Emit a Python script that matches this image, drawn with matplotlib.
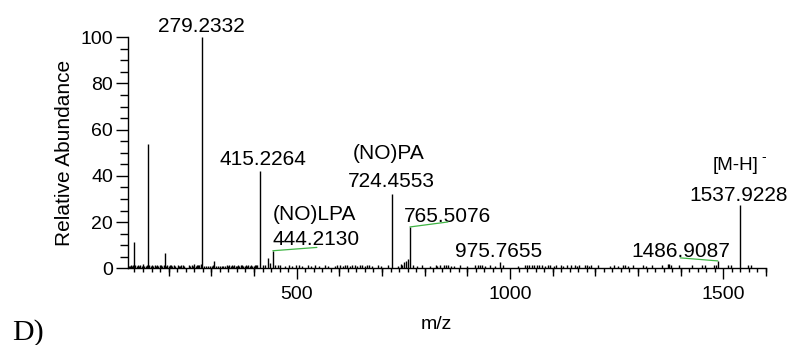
import matplotlib
matplotlib.use("Agg")
import matplotlib.pyplot as plt
from matplotlib.ticker import MultipleLocator, FixedLocator

plt.rcParams['font.family'] = ['Liberation Sans', 'DejaVu Sans']

# Prominent ions: m/z and relative abundance (%)
peak_mz = [118.8, 152.3, 190.5, 279.2332, 307.0, 415.2264, 432.0, 444.2130,
           724.4553, 765.5076, 975.7655, 1486.9087, 1537.9228]
peak_int = [11.2, 53.8, 6.5, 100.0, 3.3, 42.3, 4.6, 7.6,
            32.0, 17.9, 2.8, 3.2, 27.4]

# Low-level signals along the baseline
noise_mz = [106, 109, 112, 115, 117, 122, 125, 128, 131, 134,
            137, 140, 143, 146, 149, 155, 158, 161, 164, 167,
            170, 173, 176, 179, 182, 185, 188, 194, 197, 200,
            203, 206, 209, 212, 215, 221, 224, 227, 230, 233,
            236, 248, 251, 254, 257, 260, 263, 266, 269, 272,
            275, 284, 288, 292, 297, 301, 304, 312, 316, 320,
            324, 328, 332, 336, 339, 342, 345, 348, 351, 354,
            357, 360, 363, 366, 369, 372, 375, 378, 381, 384,
            387, 390, 393, 396, 399, 402, 405, 408, 420, 426,
            437, 449, 456, 461, 473, 481, 488, 498, 506, 513,
            526, 534, 543, 552, 567, 574, 590, 595, 602, 608,
            613, 619, 625, 630, 637, 642, 649, 654, 660, 666,
            670, 676, 691, 697, 715, 738, 744, 748, 752, 756,
            760, 773, 783, 793, 813, 826, 828, 836, 846, 849,
            854, 862, 869, 883, 899, 918, 924, 930, 935, 941,
            953, 965, 984, 1019, 1034, 1039, 1045, 1051, 1057, 1063,
            1068, 1074, 1082, 1088, 1094, 1102, 1108, 1119, 1125, 1133,
            1142, 1152, 1158, 1162, 1176, 1180, 1186, 1191, 1207, 1234,
            1244, 1254, 1264, 1270, 1277, 1289, 1311, 1319, 1332, 1356,
            1370, 1373, 1377, 1395, 1426, 1449, 1456, 1477, 1482, 1510,
            1518, 1557, 1565]
noise_int = [1.2, 0.9, 1.4, 1.0, 1.6, 1.3, 0.8, 1.5, 1.1, 1.4,
             1.0, 1.7, 1.2, 0.9, 1.5, 1.3, 1.1, 1.6, 1.0, 1.4,
             1.2, 1.5, 0.9, 1.3, 1.6, 1.1, 1.4, 1.2, 1.5, 1.0,
             1.3, 1.6, 1.1, 1.4, 0.9, 1.5, 1.2, 1.0, 1.6, 1.3,
             1.1, 1.4, 1.0, 1.5, 1.2, 1.7, 1.1, 1.3, 1.6, 1.4,
             1.8, 1.0, 0.8, 1.2, 0.9, 1.1, 1.3, 1.0, 1.2, 0.9,
             1.1, 0.8, 1.2, 1.3, 1.0, 1.4, 1.1, 1.3, 0.9, 1.5,
             1.2, 1.0, 1.4, 1.1, 1.3, 1.5, 1.0, 1.2, 1.4, 1.1,
             1.3, 1.0, 1.5, 1.2, 1.1, 1.4, 1.3, 1.6, 1.4, 1.5,
             2.2, 1.5, 1.3, 1.4, 1.2, 1.4, 1.1, 1.3, 1.4, 1.2,
             1.3, 1.2, 1.4, 1.1, 1.3, 1.2, 1.1, 1.3, 1.4, 1.2,
             1.3, 1.4, 1.2, 1.3, 1.4, 1.2, 1.3, 1.4, 1.2, 1.3,
             1.4, 1.2, 1.3, 1.1, 1.3, 1.2, 1.8, 1.5, 2.6, 3.2,
             4.0, 1.3, 1.2, 1.3, 1.2, 1.3, 1.1, 1.4, 1.5, 1.3,
             1.4, 1.1, 1.2, 1.3, 1.2, 1.3, 1.4, 1.5, 1.3, 1.2,
             1.3, 1.2, 1.4, 1.2, 1.3, 1.4, 1.5, 1.3, 1.4, 1.3,
             1.4, 1.3, 1.2, 1.3, 1.4, 1.2, 1.3, 1.4, 1.2, 1.3,
             1.4, 1.3, 1.2, 1.4, 1.3, 1.5, 1.2, 1.3, 1.4, 1.2,
             1.3, 1.2, 1.4, 1.3, 1.2, 1.3, 1.4, 1.2, 1.3, 1.4,
             1.8, 2.0, 1.6, 1.3, 1.4, 1.3, 1.5, 1.4, 1.6, 1.3,
             1.4, 1.3, 1.4]

# Annotated ions: (m/z, abundance, label, ha, dx_pt, dy_pt)
mz_labels = [
    (279.2332, 100.0, "279.2332", "center", -0.7, 3.6),
    (415.2264, 42.3, "415.2264", "center", 1.5, 4.1),
    (444.2130, 7.6, "444.2130", "left", -0.4, 4.1),
    (724.4553, 32.0, "724.4553", "center", -0.7, 5.0),
    (765.5076, 17.9, "765.5076", "left", -4.3, 3.8),
    (975.7655, 2.8, "975.7655", "center", -0.7, 3.8),
    (1486.9087, 3.2, "1486.9087", "right", 8.9, 2.9),
    (1537.9228, 27.4, "1537.9228", "center", -0.7, 3.1),
]
# Species names placed above their ions
species_labels = [
    (444.2130, 7.6, "(NO)LPA", "left", -0.4, 22.1),
    (724.4553, 32.0, "(NO)PA", "center", -2.6, 25.8),
]
# Leader lines from ion to label (dx_pt, dy_pt)
leaders = [
    (444.2130, 7.6, 31.7, 2.4),
    (765.5076, 17.9, 27.4, 3.6),
    (1486.9087, 3.2, -27.0, 2.2),
]

FS = 14

fig = plt.figure(figsize=(7.92, 3.45), dpi=100)
ax = fig.add_axes([0.1612, 0.2223, 0.806, 0.6696])

ax.vlines(noise_mz, 0, noise_int, color='black', lw=1.0)
ax.vlines(peak_mz, 0, peak_int, color='black', lw=1.0)

ax.set_xlim(104, 1600)
ax.set_ylim(0, 100)

for s in ('top', 'right'):
    ax.spines[s].set_visible(False)
for s in ('left', 'bottom'):
    ax.spines[s].set_linewidth(1.0)

ax.xaxis.set_major_locator(FixedLocator([500, 1000, 1500]))
ax.xaxis.set_minor_locator(MultipleLocator(20))
ax.yaxis.set_major_locator(MultipleLocator(20))
ax.yaxis.set_minor_locator(MultipleLocator(5))
ax.tick_params(axis='x', which='major', direction='out', length=8, width=1.0,
               labelsize=FS, pad=5)
ax.tick_params(axis='x', which='minor', direction='out', length=3.1, width=1.0)
ax.tick_params(axis='y', which='major', direction='out', length=9, width=1.0,
               labelsize=FS, pad=1.5)
ax.tick_params(axis='y', which='minor', direction='out', length=6, width=1.0)

# intermediate ticks every 100 m/z
sec = ax.secondary_xaxis('bottom')
sec.set_xticks([m for m in range(200, 1700, 100) if m % 500])
sec.tick_params(axis='x', which='major', length=5.8, width=1.0,
                labelbottom=False)
sec.spines['bottom'].set_visible(False)

ax.set_ylabel("Relative Abundance", fontsize=FS + 1, labelpad=4.5)
ax.set_xlabel("m/z", fontsize=FS)
ax.xaxis.set_label_coords(0.483, -0.205)

for mz, h, txt, ha, dx, dy in mz_labels + species_labels:
    ax.annotate(txt, xy=(mz, h), xytext=(dx, dy), textcoords='offset points',
                ha=ha, va='baseline', fontsize=FS + 1, annotation_clip=False)

ax.annotate("[M-H]", xy=(1537.9228, 27.4), xytext=(-2.5, 25.0),
            textcoords='offset points', ha='center', va='baseline',
            fontsize=FS - 0.5, annotation_clip=False)
ax.annotate("-", xy=(1537.9228, 27.4), xytext=(15.5, 31.5),
            textcoords='offset points', ha='left', va='baseline',
            fontsize=FS - 4, annotation_clip=False)

for mz, h, dx, dy in leaders:
    ax.annotate("", xy=(mz, h), xytext=(dx, dy), textcoords='offset points',
                arrowprops=dict(arrowstyle='-', color='#3fb444', lw=0.9,
                                shrinkA=0, shrinkB=0),
                annotation_clip=False)

fig.text(12 / 792, 5 / 345, "D)", fontsize=21.5, va='baseline', ha='left',
         family=['Liberation Serif', 'DejaVu Serif'])

fig.savefig("out.png", dpi=100)
